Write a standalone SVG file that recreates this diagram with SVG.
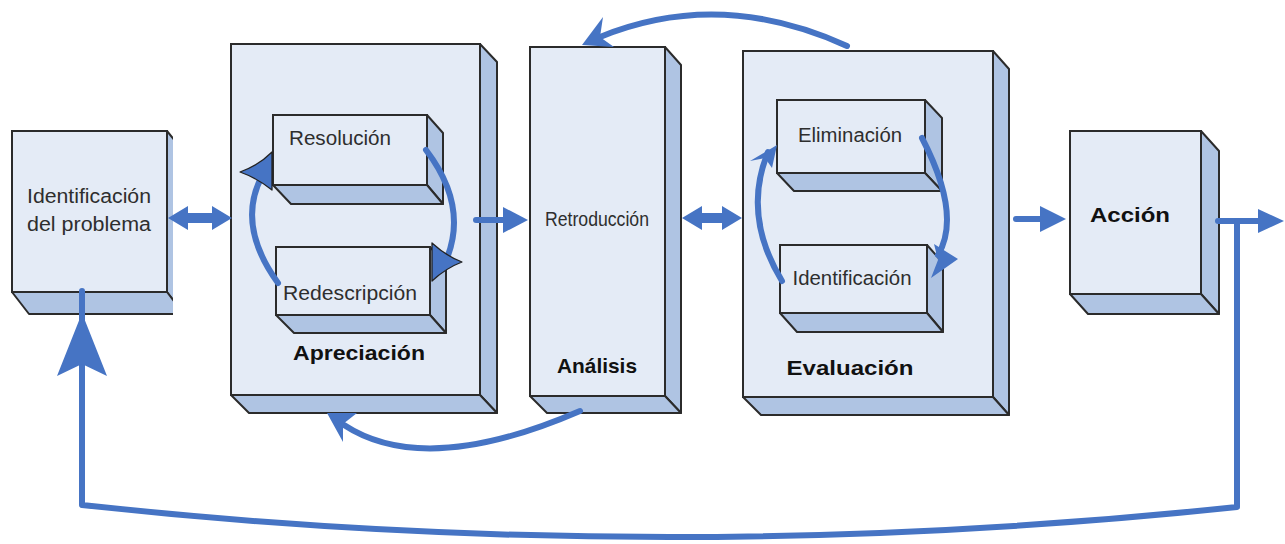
<svg xmlns="http://www.w3.org/2000/svg" width="1285" height="544" viewBox="0 0 1285 544">
<defs>
<style>
.f{fill:#E4EBF6;stroke:#2b2b2b;stroke-width:2}
.s{fill:#AFC4E3;stroke:#2b2b2b;stroke-width:2;stroke-linejoin:round}
.t{font-family:"Liberation Sans",Arial,sans-serif;font-size:20px;fill:#2e2e2e}
.b{font-family:"Liberation Sans",Arial,sans-serif;font-size:21px;font-weight:bold;fill:#111}
.ln{fill:none;stroke:#4674C4;stroke-width:6;stroke-linecap:round;stroke-linejoin:round}
.ar{fill:#4674C4}
.ah{fill:#4674C4;stroke:#222;stroke-width:1.3;stroke-linejoin:round}
</style>
<clipPath id="c1"><rect x="0" y="100" width="173" height="230"/></clipPath>
</defs>
<rect width="1285" height="544" fill="#fff"/>

<g id="n-identificacion-problema">
<g clip-path="url(#c1)">
<polygon class="s" points="167,131 184,152 184,314 167,292"/>
<polygon class="s" points="12,292 167,292 184,314 29,314"/>
<rect class="f" x="12" y="131" width="155" height="161"/>
</g>
<text class="t" x="89" y="203" text-anchor="middle" font-size="21" textLength="124" lengthAdjust="spacingAndGlyphs" fill="#3a3a3a">Identificación</text>
<text class="t" x="89" y="231" text-anchor="middle" font-size="21" textLength="124" lengthAdjust="spacingAndGlyphs" fill="#3a3a3a">del problema</text>
</g>

<g id="n-apreciacion">
<polygon class="s" points="480,44 497,62 497,413 480,395"/>
<polygon class="s" points="231,395 480,395 497,413 249,413"/>
<rect class="f" x="231" y="44" width="249" height="351"/>
<text class="b" x="359" y="360" text-anchor="middle" textLength="132" lengthAdjust="spacingAndGlyphs">Apreciación</text>
</g>

<g id="n-resolucion">
<polygon class="s" points="427,115 443,133 443,204 427,185"/>
<polygon class="s" points="273,185 427,185 443,204 291,204"/>
<rect class="f" x="273" y="115" width="154" height="70"/>
<text class="t" x="340" y="145" text-anchor="middle" textLength="102" lengthAdjust="spacingAndGlyphs">Resolución</text>
</g>

<g id="n-redescripcion">
<polygon class="s" points="430,247 446,265 446,333 430,315"/>
<polygon class="s" points="276,315 430,315 446,333 294,333"/>
<rect class="f" x="276" y="247" width="154" height="68"/>
<text class="t" x="350" y="300" text-anchor="middle" textLength="134" lengthAdjust="spacingAndGlyphs">Redescripción</text>
</g>

<g id="n-analisis">
<polygon class="s" points="665,47 681,65 681,413 665,396"/>
<polygon class="s" points="530,396 665,396 681,413 547,413"/>
<rect class="f" x="530" y="47" width="135" height="349"/>
<text class="t" x="597" y="226" text-anchor="middle" font-size="17" textLength="104" lengthAdjust="spacingAndGlyphs">Retroducción</text>
<text class="b" x="597" y="373" text-anchor="middle" textLength="80" lengthAdjust="spacingAndGlyphs">Análisis</text>
</g>

<g id="n-evaluacion">
<polygon class="s" points="993,51 1009,69 1009,415 993,397"/>
<polygon class="s" points="743,397 993,397 1009,415 761,415"/>
<rect class="f" x="743" y="51" width="250" height="346"/>
<text class="b" x="850" y="375" text-anchor="middle" textLength="127" lengthAdjust="spacingAndGlyphs">Evaluación</text>
</g>

<g id="n-eliminacion">
<polygon class="s" points="925,100 942,118 942,191 925,173"/>
<polygon class="s" points="777,173 925,173 942,191 794,191"/>
<rect class="f" x="777" y="100" width="148" height="73"/>
<text class="t" x="850" y="142" text-anchor="middle" textLength="104" lengthAdjust="spacingAndGlyphs">Eliminación</text>
</g>

<g id="n-identificacion">
<polygon class="s" points="927,245 943,263 943,332 927,313"/>
<polygon class="s" points="780,313 927,313 943,332 797,332"/>
<rect class="f" x="780" y="245" width="147" height="68"/>
<text class="t" x="852" y="285" text-anchor="middle" textLength="119" lengthAdjust="spacingAndGlyphs">Identificación</text>
</g>

<g id="n-accion">
<polygon class="s" points="1201,131 1219,151 1219,314 1201,294"/>
<polygon class="s" points="1070,294 1201,294 1219,314 1088,314"/>
<rect class="f" x="1070" y="131" width="131" height="163"/>
<text class="b" x="1130" y="222" text-anchor="middle" font-size="24" textLength="80" lengthAdjust="spacingAndGlyphs">Acción</text>
</g>

<g id="connectors">
<polygon class="ar" points="168,218 188,206 188,213 212,213 212,206 232,218 212,230 212,223 188,223 188,230"/>
<path class="ln" d="M476,220 H504" stroke-width="10"/>
<polygon class="ar" points="503,207 528,220 503,233"/>
<polygon class="ar" points="682,218 702,206 702,213 722,213 722,206 742,218 722,230 722,223 702,223 702,230"/>
<path class="ln" d="M1016,219 H1042" stroke-width="10"/>
<polygon class="ar" points="1040,206 1066,219 1040,232"/>
<path class="ln" d="M1218,221 H1262" stroke-linecap="butt"/>
<polygon class="ar" points="1258,209 1284,221 1258,233"/>
<path class="ln" d="M1237,221 V507 Q660,568 82,505 V291" stroke-linecap="butt"/>
<polygon class="ar" points="82,313 107,376 82,364 57,376"/>
<path class="ln" d="M847,46 Q720,-12 600,37"/>
<polygon class="ar" points="582,45 603,17 600,37 614,47"/>
<path class="ln" d="M580,411 Q425,478 344,425"/>
<polygon class="ar" points="327,413 357,413 343,424 343,442"/>
<path class="ln" d="M278,283 Q236,225 262,176" stroke-width="9"/>
<path class="ah" d="M240,172 Q258,166 272,152 L272,190 Q257,178 240,172 Z"/>
<path class="ln" d="M426,150 Q468,205 447,258" stroke-width="9"/>
<path class="ah" d="M462,262 Q446,256 432,243 L432,281 Q446,268 462,262 Z"/>
<path class="ln" d="M922,138 Q962,215 938,255" stroke-width="7"/>
<polygon class="ar" points="958,259 931,278 938,260 934,244"/>
<path class="ln" d="M782,281 Q742,215 768,152" stroke-width="7"/>
<polygon class="ar" points="777,145 772,168 765,158 750,161"/>
</g>
</svg>
